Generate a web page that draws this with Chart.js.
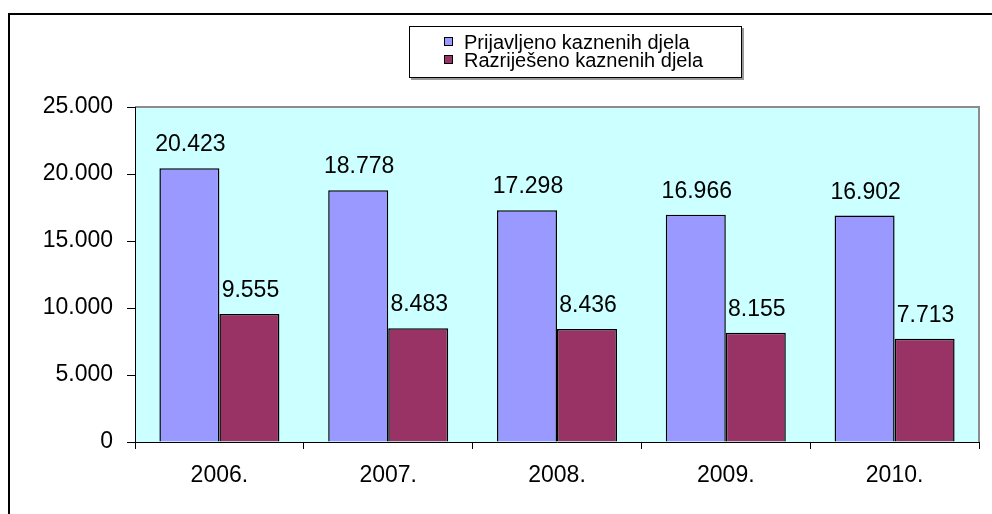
<!DOCTYPE html>
<html>
<head>
<meta charset="utf-8">
<script src="https://cdn.jsdelivr.net/npm/chart.js@4/dist/chart.umd.min.js"></script>
<style>
  html, body { margin: 0; padding: 0; background: #fff; }
  #wrap { position: relative; width: 992px; height: 514px; }
</style>
</head>
<body>
<div id="wrap"><canvas id="grafico"></canvas></div>
<script>
// Podaci
const godine = ['2006.', '2007.', '2008.', '2009.', '2010.'];
const prijavljeno = [20423, 18778, 17298, 16966, 16902];
const razrijeseno = [9555, 8483, 8436, 8155, 7713];
const nazivi = ['Prijavljeno kaznenih djela', 'Razriješeno kaznenih djela'];

const FONT = '"Liberation Sans", Arial, sans-serif';

function formatBroj(v) {
  return String(v).replace(/\B(?=(\d{3})+(?!\d))/g, '.');
}

// okvir, pozadina i rub podrucja grafa
const pozadina = {
  id: 'pozadina',
  beforeDraw(chart) {
    const { ctx, chartArea: a } = chart;
    ctx.save();
    ctx.fillStyle = '#fff';
    ctx.fillRect(0, 0, chart.width, chart.height);
    ctx.strokeStyle = '#000';
    ctx.lineWidth = 2;
    ctx.beginPath();
    ctx.moveTo(9, chart.height);
    ctx.lineTo(9, 14);
    ctx.lineTo(chart.width, 14);
    ctx.stroke();
    ctx.fillStyle = '#ccffff';
    ctx.fillRect(a.left, a.top, a.right - a.left, a.bottom - a.top);
    ctx.strokeStyle = '#8c8c8c';
    ctx.lineWidth = 2;
    ctx.beginPath();
    ctx.moveTo(a.left, a.top);
    ctx.lineTo(a.right, a.top);
    ctx.lineTo(a.right, a.bottom);
    ctx.stroke();
    ctx.restore();
  }
};

// vrijednosti iznad stupaca
const oznake = {
  id: 'oznake',
  afterDatasetsDraw(chart) {
    const { ctx } = chart;
    ctx.save();
    ctx.font = '23px ' + FONT;
    ctx.fillStyle = '#000';
    ctx.textAlign = 'center';
    ctx.textBaseline = 'alphabetic';
    chart.data.datasets.forEach((ds, i) => {
      chart.getDatasetMeta(i).data.forEach((el, j) => {
        ctx.fillText(formatBroj(ds.data[j]), el.x + 1, el.y - 17);
      });
    });
    ctx.restore();
  }
};

// legenda u okviru
const legenda = {
  id: 'legenda',
  afterDraw(chart) {
    const { ctx } = chart;
    ctx.save();
    ctx.fillStyle = '#999';
    ctx.fillRect(411, 28, 333, 52);
    ctx.fillStyle = '#fff';
    ctx.fillRect(409, 26, 333, 52);
    ctx.strokeStyle = '#000';
    ctx.lineWidth = 1;
    ctx.strokeRect(409.5, 26.5, 332, 51);
    ctx.font = '20px ' + FONT;
    ctx.textBaseline = 'alphabetic';
    chart.data.datasets.forEach((ds, i) => {
      const y = 37 + i * 18;
      ctx.fillStyle = ds.backgroundColor;
      ctx.fillRect(444, y, 9, 9);
      ctx.strokeStyle = '#000';
      ctx.strokeRect(444.5, y + 0.5, 8, 8);
      ctx.fillStyle = '#000';
      ctx.fillText(ds.label, 464, y + 12);
    });
    ctx.restore();
  }
};

new Chart(document.getElementById('grafico'), {
  type: 'bar',
  data: {
    labels: godine,
    datasets: [
      {
        label: nazivi[0],
        data: prijavljeno,
        backgroundColor: '#9999ff',
        borderColor: '#000',
        borderWidth: 1.5
      },
      {
        label: nazivi[1],
        data: razrijeseno,
        backgroundColor: '#993366',
        borderColor: '#000',
        borderWidth: 1.5
      }
    ]
  },
  options: {
    responsive: true,
    maintainAspectRatio: false,
    animation: false,
    layout: {
      padding: { top: 107, right: 13, left: 0, bottom: 0 }
    },
    datasets: {
      bar: { categoryPercentage: 0.711, barPercentage: 1 }
    },
    scales: {
      x: {
        offset: true,
        grid: {
          offset: true,
          drawOnChartArea: false,
          tickLength: 7,
          color: '#000'
        },
        border: { color: '#000', width: 1 },
        ticks: {
          color: '#000',
          font: { family: FONT, size: 23 },
          padding: 13
        },
        afterFit(scale) { scale.height = 72; }
      },
      y: {
        min: 0,
        max: 25000,
        grid: {
          drawOnChartArea: false,
          tickLength: 8,
          color: '#000'
        },
        border: { color: '#000', width: 1 },
        ticks: {
          stepSize: 5000,
          color: '#000',
          font: { family: FONT, size: 23 },
          padding: 14,
          callback: v => formatBroj(v)
        },
        afterFit(scale) { scale.width = 135; }
      }
    },
    plugins: {
      legend: { display: false },
      tooltip: { enabled: false }
    }
  },
  plugins: [pozadina, oznake, legenda]
});
</script>
</body>
</html>
